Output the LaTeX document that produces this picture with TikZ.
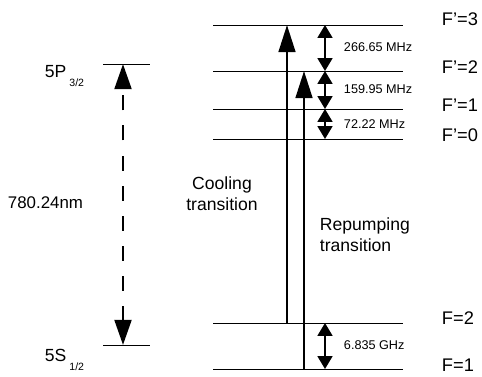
\documentclass[tikz,border=0pt]{standalone}
\usepackage{fontspec}
\setmainfont{Liberation Sans}
\usetikzlibrary{arrows.meta}

\tikzset{
  level/.style={line width=0.7pt},
  trans/.style={line width=1.7pt, -{Triangle[width=4.2mm,length=6.8mm]}},
  split/.style={line width=1.3pt, {Triangle[width=3.7mm,length=3.2mm]}-{Triangle[width=3.7mm,length=3.2mm]}},
  optical/.style={line width=2pt, dash pattern=on 3.75mm off 3.75mm,
    {Triangle[width=4.2mm,length=6.3mm]}-{Triangle[width=4.2mm,length=6.3mm]}},
  flabel/.style={anchor=west, font=\fontsize{13}{15}\selectfont},
  mhz/.style={anchor=west, font=\fontsize{9}{10}\selectfont},
  big/.style={font=\fontsize{12.5}{15}\selectfont},
}

\begin{document}
\begin{tikzpicture}[x=0.25mm, y=-0.25mm]
\useasboundingbox (0,0) rectangle (482,377);

% links: 5S - 5P
\coordinate (P) at (103,64);
\coordinate (S) at (103,345);
\draw[level] (P) -- ++(47,0);
\draw[level] (S) -- ++(47,0);
\draw[optical] (123,0 |- S) -- (123,0 |- P);
\node[anchor=west, font=\fontsize{12.5}{14}\selectfont] (Plabel) at (40,76)
  {5P\,\raisebox{-6.5pt}{\fontsize{7.5}{8}\selectfont 3/2}};
\node[anchor=west, font=\fontsize{12.5}{14}\selectfont] (Slabel) at (40,360)
  {5S\,\raisebox{-6.5pt}{\fontsize{7.5}{8}\selectfont 1/2}};
\node[anchor=west, font=\fontsize{12}{14}\selectfont] (wavelength) at (3,203) {780.24nm};

% rechts: Hyperfeinniveaus
\foreach \name/\y in {F3/25, F2p/71, F1p/109, F0/139, F2/323, F1/369}
  \draw[level] (213,\y) coordinate (\name) -- (403,\y);

\node[flabel] (lF3)  at (437,19)  {F'=3};
\node[flabel] (lF2p) at (437,67)  {F'=2};
\node[flabel] (lF1p) at (437,105) {F'=1};
\node[flabel] (lF0)  at (437,135) {F'=0};
\node[flabel] (lF2)  at (437,318) {F=2};
\node[flabel] (lF1)  at (437,365) {F=1};

% Uebergaenge
\draw[trans] (287,0 |- F2) -- (287,0 |- F3);
\draw[trans] (304,0 |- F1) -- (304,0 |- F2p);
\node[big, align=center] (cooling) at (222,194) {Cooling\\transition};
\node[big, align=left, anchor=north west] (repump) at (315,213) {Repumping\\transition};

% Abstaende
\draw[split] (325,0 |- F3)  -- (325,0 |- F2p);
\draw[split] (325,0 |- F2p) -- (325,0 |- F1p);
\draw[split] (325,0 |- F1p) -- (325,0 |- F0);
\draw[split] (325,0 |- F2)  -- (325,0 |- F1);
\node[mhz] (d32) at (339,47)  {266.65 MHz};
\node[mhz] (d21) at (339,89)  {159.95 MHz};
\node[mhz] (d10) at (339,124) {72.22 MHz};
\node[mhz] (hfs) at (339,345) {6.835 GHz};
\end{tikzpicture}
\end{document}
